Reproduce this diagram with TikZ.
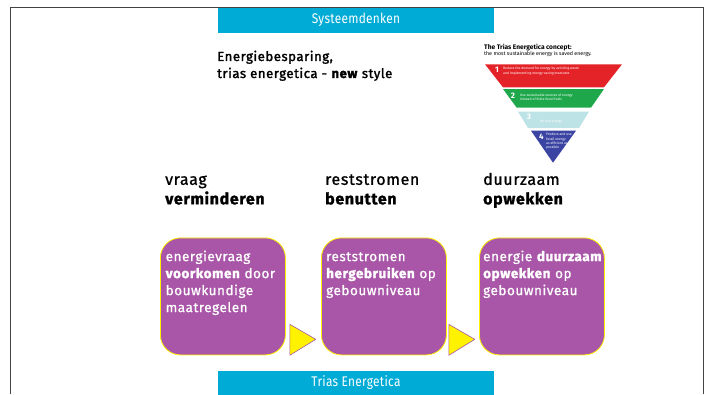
\documentclass[tikz,border=0pt]{standalone}
\usepackage{fontspec}
\setmainfont{Fira Sans}[LetterSpace=4, UprightFeatures={FakeBold=0.9}, BoldFeatures={FakeBold=1.3}]
\newfontfamily\titlefont{Fira Sans}[LetterSpace=4, UprightFeatures={FakeBold=1.8}, BoldFeatures={FakeBold=1.8}]
\newfontfamily\plainfont{Fira Sans}
\newfontfamily\condfont[FakeStretch=0.85, LetterSpace=2]{Fira Sans}
\definecolor{bannerblue}{HTML}{00ABD6}
\definecolor{boxpurple}{HTML}{A956A8}
\definecolor{arrowyellow}{HTML}{FFF200}
\definecolor{tred}{HTML}{E42328}
\definecolor{tgreen}{HTML}{1EA84B}
\definecolor{tlight}{HTML}{BEE3E6}
\definecolor{tblue}{HTML}{3B44A2}
\definecolor{framegray}{HTML}{444444}
\tikzset{
  banner/.style={fill=bannerblue, text=white, inner sep=0pt, minimum width=276pt, minimum height=25pt, font=\condfont\fontsize{14}{16}\selectfont},
  stepbox/.style={fill=boxpurple, draw=arrowyellow, line width=0.8pt, rounded corners=20pt, minimum width=125pt, minimum height=117pt, inner sep=0pt},
  boxtext/.style={text=white, anchor=north west, inner sep=0pt, align=left, font=\fontsize{13.5}{17}\selectfont},
  headtext/.style={anchor=north west, inner sep=0pt, align=left, font=\fontsize{16}{19.5}\selectfont},
  yarrow/.style={fill=arrowyellow, draw=boxpurple, line width=0.6pt, line join=round},
  tinytext/.style={text=white, anchor=north west, inner sep=0pt, align=left, font=\plainfont\fontsize{3.4}{4.3}\selectfont},
  numtext/.style={text=white, anchor=center, inner sep=0pt, font=\plainfont\bfseries\fontsize{8}{8}\selectfont},
}
\begin{document}
\begin{tikzpicture}[x=1pt,y=-1pt]
\useasboundingbox (0,0) rectangle (709,394);
% frame
\coordinate (fbl) at (10,394);
\coordinate (ftl) at (10,7.5);
\coordinate (ftr) at (703,7.5);
\coordinate (fbr) at (703,394);
\draw[framegray, line width=0.9pt] (fbl) -- (ftl) -- (ftr) -- (fbr);
% banners
\node[banner] (bantop) at (356,20) {Systeemdenken};
\node[banner, minimum height=24pt] (banbot) at (356,383) {Trias Energetica};
% title
\node[headtext, font=\titlefont\fontsize{13.2}{17}\selectfont] (title) at (217,50.5) {Energiebesparing,\\trias energetica - \textbf{new} style};
% pyramid
\node[anchor=north west, inner sep=0pt, font=\plainfont\bfseries\fontsize{6.6}{7}\selectfont] (ptitle) at (484,44) {The Trias Energetica concept:};
\node[anchor=north west, inner sep=0pt, font=\plainfont\fontsize{5.3}{6}\selectfont] (psub) at (484,51.5) {the most sustainable energy is saved energy.};
\fill[tred] (485,64.3) -- (622,64.3) -- (604,87.3) -- (503,87.3) -- cycle;
\fill[tgreen] (503,89) -- (604,89) -- (591,107.7) -- (516.7,107.7) -- cycle;
\fill[tlight] (518,111.7) -- (589,111.7) -- (579,128) -- (528,128) -- cycle;
\fill[tblue] (531,130.7) -- (576,130.7) -- (553,162.7) -- cycle;
\node[numtext] (n1) at (497,70) {1};
\node[numtext] (n2) at (513,96) {2};
\node[numtext] (n3) at (529,116.5) {3};
\node[numtext] (n4) at (541.5,136.5) {4};
\node[tinytext] (t1) at (503,67) {Reduce the demand for energy by avoiding waste\\and implementing energy-saving measures};
\node[tinytext] (t2) at (520,93.5) {Use sustainable sources of energy\\instead of finite fossil fuels};
\node[tinytext] (t3) at (540,120) {Re-use energy};
\node[tinytext] (t4) at (546,133) {Produce and use\\fossil energy\\as efficient as\\possible};
% headings
\node[headtext] (h1) at (165,171) {\strut vraag\\\textbf{verminderen}};
\node[headtext] (h2) at (325,171) {\strut reststromen\\\textbf{benutten}};
\node[headtext] (h3) at (483,171) {\strut duurzaam\\\textbf{opwekken}};
% boxes
\node[stepbox, anchor=north west] (b1) at (160,237.5) {};
\node[stepbox, anchor=north west] (b2) at (321,237.5) {};
\node[stepbox, anchor=north west] (b3) at (479,237.5) {};
\node[boxtext] (bt1) at (165.5,249) {\strut energievraag\\\textbf{voorkomen} door\\bouwkundige\\maatregelen};
\node[boxtext] (bt2) at (326,249) {\strut reststromen\\\textbf{hergebruiken} op\\gebouwniveau};
\begin{scope}
\clip (479,230) rectangle (604.5,360);
\node[boxtext] (bt3) at (483,249) {\strut energie \textbf{duurzaam}\\\textbf{opwekken} op\\gebouwniveau};
\end{scope}
% arrows
\draw[yarrow] ([xshift=4pt,yshift=31pt]b1.south east) -- ([xshift=30pt,yshift=16pt]b1.south east) -- ([xshift=4pt,yshift=0pt]b1.south east) -- cycle;
\draw[yarrow] ([xshift=2pt,yshift=31pt]b2.south east) -- ([xshift=28pt,yshift=16pt]b2.south east) -- ([xshift=2pt,yshift=0pt]b2.south east) -- cycle;
\end{tikzpicture}
\end{document}
